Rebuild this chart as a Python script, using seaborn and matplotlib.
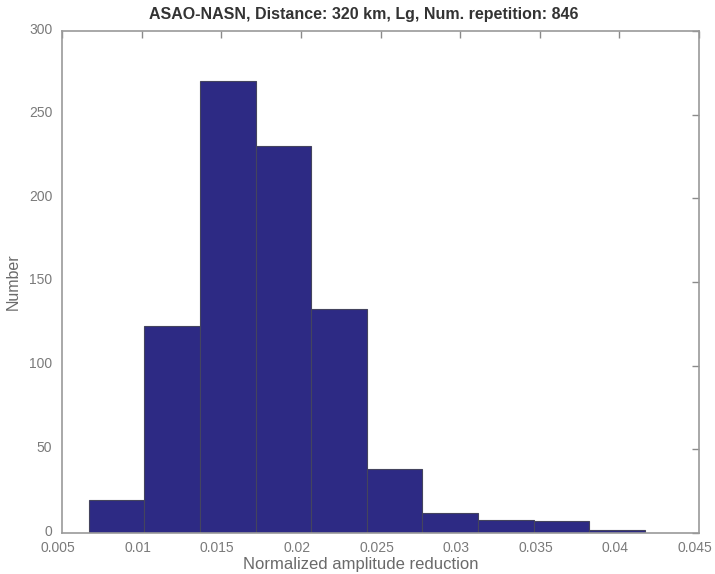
import matplotlib
matplotlib.use("Agg")
import matplotlib.pyplot as plt
import matplotlib.transforms as mtransforms
import seaborn as sns
import numpy as np

# Data
bin_edges = [0.00669, 0.01018, 0.01367, 0.01716, 0.02065, 0.02414,
             0.02763, 0.03112, 0.03461, 0.03810, 0.04159]
counts = [20, 124, 270, 231, 134, 38, 12, 8, 7, 2]
x_ticks = [0.005, 0.01, 0.015, 0.02, 0.025, 0.03, 0.035, 0.04, 0.045]
x_tick_labels = ["0.005", "0.01", "0.015", "0.02", "0.025", "0.03", "0.035", "0.04", "0.045"]
y_ticks = [0, 50, 100, 150, 200, 250, 300]
title = "ASAO-NASN, Distance: 320 km, Lg, Num. repetition: 846"
xlabel = "Normalized amplitude reduction"
ylabel = "Number"

sns.set_style("white")
plt.rcParams['font.family'] = ['Liberation Sans', 'DejaVu Sans']

centers = [(bin_edges[i] + bin_edges[i + 1]) / 2 for i in range(len(counts))]

fig = plt.figure(figsize=(7.15, 5.74), dpi=100)
ax = fig.add_axes([62 / 715, (574 - 533) / 574, (699 - 62) / 715, (533 - 31) / 574])

sns.histplot(x=centers, weights=counts, bins=bin_edges, ax=ax,
             color="#2d2a84", alpha=1.0, edgecolor="#44445e", linewidth=0.8)

ax.set_xlim(0.005, 0.045)
ax.set_ylim(0, 300)
ax.set_xticks(x_ticks)
ax.set_xticklabels(x_tick_labels)
ax.set_yticks(y_ticks)

gray = "#7a7a7a"
for s in ax.spines.values():
    s.set_visible(True)
    s.set_color("#9a9a9a")
    s.set_linewidth(1.2)
ax.tick_params(axis="both", direction="in", length=5, width=1, color="#8a8a8a",
               labelcolor=gray, labelsize=10, top=True, right=True)
ax.tick_params(axis="x", pad=6)
ax.tick_params(axis="y", pad=7)

# shift x tick labels slightly left, as in the reference
offset = mtransforms.ScaledTranslation(-4 / 100, 0, fig.dpi_scale_trans)
for lab in ax.get_xticklabels():
    lab.set_transform(lab.get_transform() + offset)
# raise y tick labels slightly
yoff = mtransforms.ScaledTranslation(0, 3 / 100, fig.dpi_scale_trans)
for lab in ax.get_yticklabels():
    lab.set_transform(lab.get_transform() + yoff)

ax.set_title(title, fontsize=11.5, fontweight="bold", color="#333333", pad=9,
             x=(364 - 62) / 637)
ax.set_xlabel(xlabel, fontsize=12, color="#6a6a6a")
ax.xaxis.label.set_verticalalignment("center")
ax.xaxis.set_label_coords((361 - 62) / 637, -(565 - 533) / 502)
ax.set_ylabel(ylabel, fontsize=11.5, color="#6a6a6a", labelpad=6)

fig.savefig("out.png", dpi=100)
